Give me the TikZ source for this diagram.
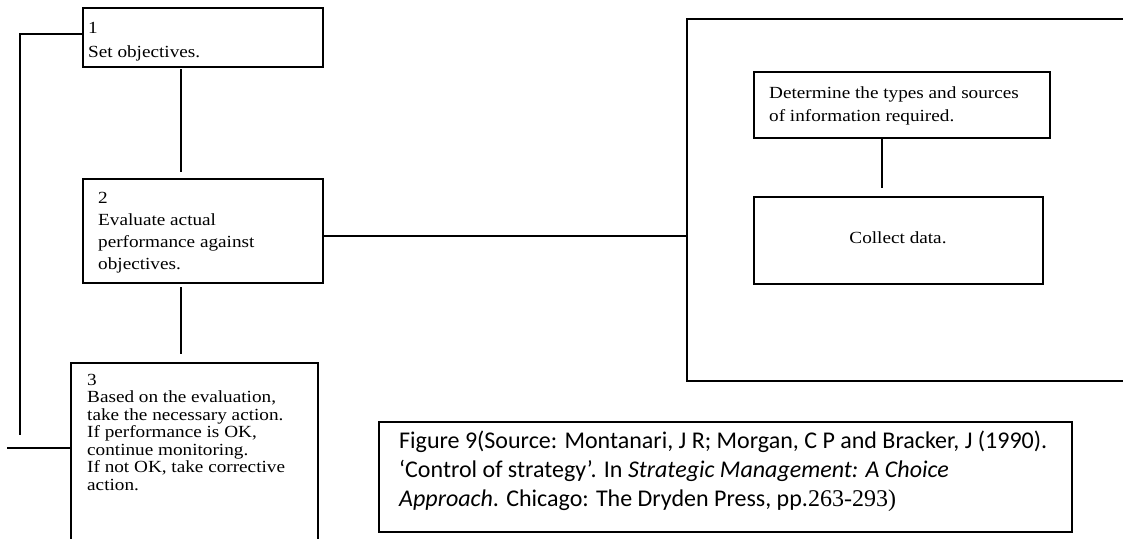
\documentclass[tikz,border=0pt]{standalone}
\usepackage{fontspec}
\setmainfont{Liberation Serif}
\newfontfamily\boxfont[FakeStretch=1.13]{Liberation Serif}
\newfontfamily\capfont{Carlito}
\newfontfamily\capser{Liberation Serif}
\newcommand\mlines[2]{\boxfont\fontsize{17pt}{#1}\selectfont\begin{tabular}[t]{@{}l@{}}#2\end{tabular}}
\begin{document}
\begin{tikzpicture}[x=1pt,y=-1pt,
  box/.style={draw, line width=1.3pt, inner sep=0pt, outer sep=0pt, anchor=north west},
  conn/.style={line width=1.4pt},
  txt/.style={inner sep=0pt, anchor=base west}]
\useasboundingbox (0,0) rectangle (1123,538);
\clip (0,0) rectangle (1123,538);
% boxes
\node[box, minimum width=240pt, minimum height=59pt] (b1) at (83,8) {};
\node[box, minimum width=240pt, minimum height=104pt] (b2) at (83,179) {};
\node[box, minimum width=247pt, minimum height=190pt] (b3) at (71,363) {};
\node[box, minimum width=460pt, minimum height=362pt] (big) at (687,19) {};
\node[box, minimum width=296pt, minimum height=66pt] (bA) at (754,72) {};
\node[box, minimum width=289pt, minimum height=87pt] (bB) at (754,197) {};
\node[box, minimum width=693pt, minimum height=110pt] (cap) at (379,422) {};
% texts
\node[txt] (t1) at (88,33) {\mlines{24pt}{1\\Set objectives.}};
\node[txt] (t2) at (98,203) {\mlines{22pt}{2\\Evaluate actual\\performance against\\objectives.}};
\node[txt] (t3) at (87,385) {\mlines{17.5pt}{3\\Based on the evaluation,\\take the necessary action.\\If performance is OK,\\continue monitoring.\\If not OK, take corrective\\action.}};
\node[txt] (tA) at (769,98) {\mlines{23pt}{Determine the types and sources\\of information required.}};
\node[inner sep=0pt, anchor=base] (tB) at (898,243) {\boxfont\fontsize{17pt}{20pt}\selectfont Collect data.};
\node[txt] (tc) at (399,448) {\capfont\fontsize{24pt}{29.3pt}\selectfont\begin{tabular}[t]{@{}l@{}}Figure 9(Source: Montanari, J R; Morgan, C P and Bracker, J (1990).\\‘Control of strategy’. In \textit{Strategic Management: A Choice}\\\textit{Approach}. Chicago: The Dryden Press, pp.{\capser 263-293)}\end{tabular}};
% connectors
\coordinate (x1) at (181,0);
\coordinate (x2) at (882,0);
\coordinate (y1) at (0,34);
\coordinate (y2) at (0,236);
\coordinate (lp) at (20,435);
\coordinate (q) at (7,448);
\draw[conn] ([yshift=-2pt]b1.south -| x1) -- ([yshift=7pt]b2.north -| x1);
\draw[conn] ([yshift=-4pt]b2.south -| x1) -- ([yshift=9pt]b3.north -| x1);
\draw[conn] ([yshift=-1pt]bA.south -| x2) -- ([yshift=9pt]bB.north -| x2);
\draw[conn] (b2.east |- y2) -- (big.west |- y2);
\draw[conn] (b1.west |- y1) -| (lp);
\draw[conn] (q) -- (q -| b3.west);
\end{tikzpicture}
\end{document}
